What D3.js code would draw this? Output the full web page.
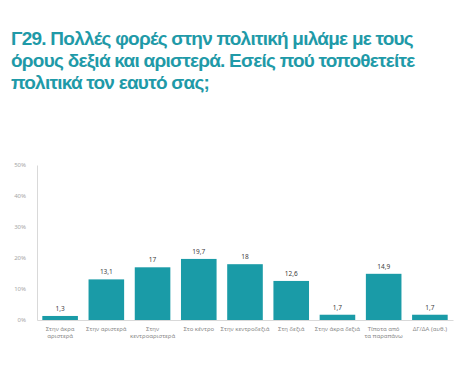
<!DOCTYPE html>
<html>
<head>
<meta charset="utf-8">
<script src="https://cdn.jsdelivr.net/npm/d3@7"></script>
<style>
  body { margin: 0; background: #fff; }
  svg { display: block; }
</style>
</head>
<body>
<svg id="chart" width="466" height="377"></svg>
<script>
  var titleLines = [
    "Γ29. Πολλές φορές στην πολιτική μιλάμε με τους",
    "όρους δεξιά και αριστερά. Εσείς πού τοποθετείτε",
    "πολιτικά τον εαυτό σας;"
  ];

  // category labels, split into lines
  var categories = [
    ["Στην άκρα", "αριστερά"],
    ["Στην αριστερά"],
    ["Στην", "κεντροαριστερά"],
    ["Στο κέντρο"],
    ["Στην κεντροδεξιά"],
    ["Στη δεξιά"],
    ["Στην άκρα δεξιά"],
    ["Τίποτα από", "τα παραπάνω"],
    ["ΔΓ/ΔΑ (αυθ.)"]
  ];
  var values = [1.3, 13.1, 17, 19.7, 18, 12.6, 1.7, 14.9, 1.7];
  var yTicks = [0, 10, 20, 30, 40, 50];

  var teal = "#1a9ba7";
  var svg = d3.select("#chart");

  // title
  var title = svg.append("g").selectAll("text")
    .data(titleLines)
    .enter().append("text")
    .attr("x", 11)
    .attr("y", function (d, i) { return 45 + i * 22; })
    .style("font-family", "'Liberation Sans', Arial, sans-serif")
    .style("font-weight", "bold")
    .style("font-size", "19px")
    .style("fill", "#1f9aa8")
    .text(function (d) { return d; });

  // fit first line to ~402px with letter spacing
  var first = title.node();
  var w = first.getComputedTextLength();
  var ls = (402 - w) / titleLines[0].length;
  title.style("letter-spacing", ls + "px");

  var x = d3.scaleBand()
    .domain(d3.range(values.length))
    .range([37, 453])
    .paddingInner(0.23)
    .paddingOuter(0.115);

  var y = d3.scaleLinear()
    .domain([0, 50])
    .range([320, 165]);

  // y axis
  var yAxis = svg.append("g")
    .attr("transform", "translate(37,0)")
    .call(d3.axisLeft(y).tickValues(yTicks)
      .tickSize(0).tickPadding(11)
      .tickFormat(function (d) { return d + "%"; }));
  yAxis.select(".domain").attr("stroke", "#d9d9d9");
  yAxis.selectAll("text")
    .style("font-family", "'Noto Sans', sans-serif")
    .style("font-size", "6px")
    .style("fill", "#a6a6a6");

  // x axis line
  var xAxis = svg.append("g")
    .attr("transform", "translate(0,320)")
    .call(d3.axisBottom(x).tickSize(0).tickFormat(""));
  xAxis.select(".domain").attr("stroke", "#d9d9d9");

  // bars
  svg.append("g").selectAll("rect")
    .data(values)
    .enter().append("rect")
    .attr("x", function (d, i) { return x(i); })
    .attr("y", function (d) { return y(d); })
    .attr("width", x.bandwidth())
    .attr("height", function (d) { return y(0) - y(d); })
    .style("fill", teal);

  // value labels
  svg.append("g").selectAll("text")
    .data(values)
    .enter().append("text")
    .attr("x", function (d, i) { return x(i) + x.bandwidth() / 2; })
    .attr("y", function (d) { return y(d) - 5; })
    .attr("text-anchor", "middle")
    .style("font-family", "'Noto Sans', sans-serif")
    .style("font-size", "6.5px")
    .style("fill", "#404040")
    .text(function (d) { return String(d).replace(".", ","); });

  // category labels
  var cat = svg.append("g").selectAll("text")
    .data(categories)
    .enter().append("text")
    .attr("x", function (d, i) { return x(i) + x.bandwidth() / 2; })
    .attr("y", 331)
    .attr("text-anchor", "middle")
    .style("font-family", "'Noto Sans', sans-serif")
    .style("font-size", "6px")
    .style("fill", "#8c8c8c");

  cat.selectAll("tspan")
    .data(function (d) { return d; })
    .enter().append("tspan")
    .attr("x", function () { return this.parentNode.getAttribute("x"); })
    .attr("dy", function (d, i) { return i === 0 ? 0 : 7; })
    .text(function (d) { return d; });
</script>
</body>
</html>
